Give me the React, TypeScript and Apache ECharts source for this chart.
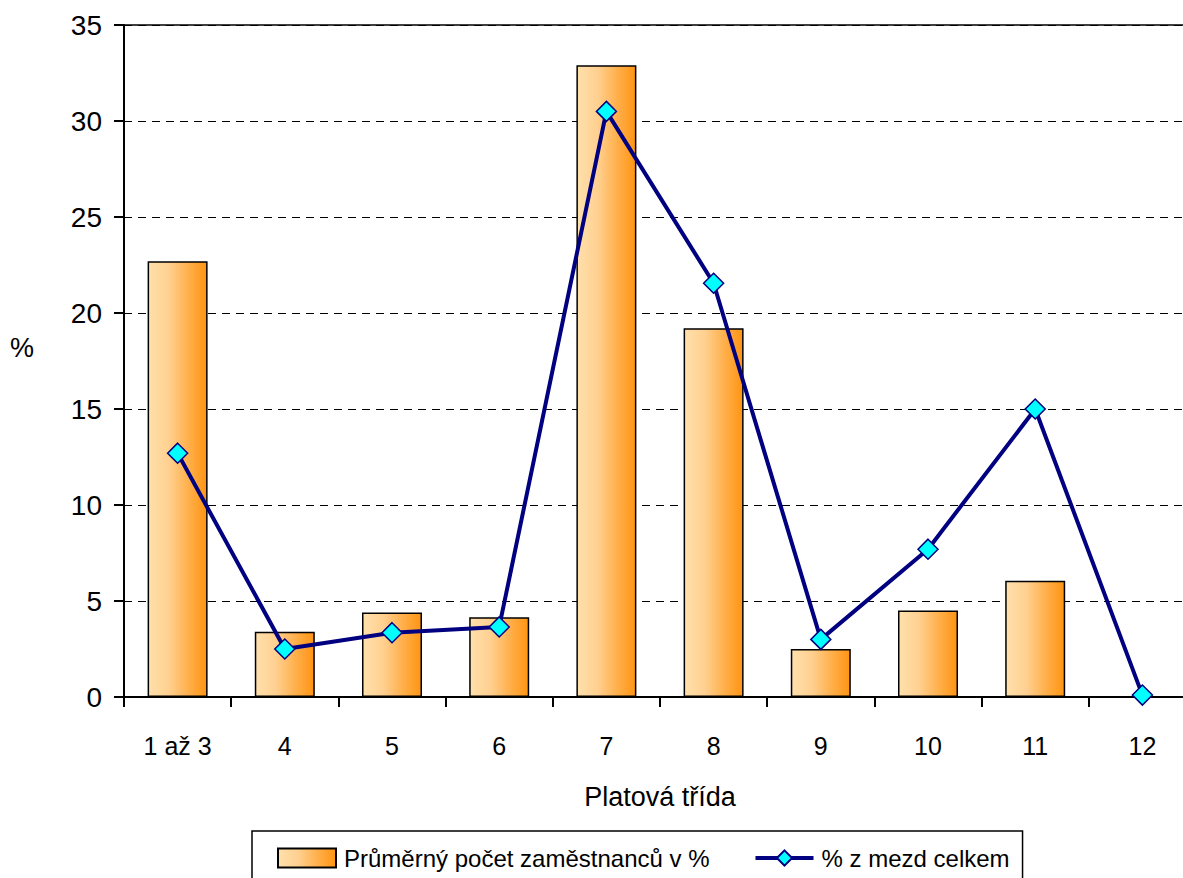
import React, { useEffect, useRef } from "react";
import * as echarts from "echarts";

const categories = ["1 až 3", "4", "5", "6", "7", "8", "9", "10", "11", "12"];
const employeesPct = [22.7, 3.4, 4.4, 4.15, 32.9, 19.2, 2.5, 4.5, 6.05, 0];
const wagesPct = [12.7, 2.5, 3.35, 3.65, 30.5, 21.55, 3.0, 7.7, 15.0, 0.1];
const yTicks = { min: 0, max: 35, interval: 5 };

const FONT = "'Liberation Sans', Arial, sans-serif";

export default function App() {
  const ref = useRef<HTMLDivElement>(null);
  useEffect(() => {
    if (!ref.current) return;
    const chart = echarts.init(ref.current, undefined, { renderer: "svg" });
    const barGradient = new echarts.graphic.LinearGradient(0, 0, 1, 0, [
      { offset: 0, color: "#FFE0AC" },
      { offset: 0.35, color: "#FFD090" },
      { offset: 0.7, color: "#FFAE48" },
      { offset: 1, color: "#FF9412" },
    ]);
    chart.setOption({
      animation: false,
      backgroundColor: "#ffffff",
      textStyle: { fontFamily: FONT, color: "#000" },
      grid: {
        left: 124,
        top: 25,
        right: 14,
        bottom: 181,
        show: true,
        borderColor: "#000",
        borderWidth: 1.5,
        containLabel: false,
      },
      legend: {
        left: 252,
        top: 831,
        padding: [15, 13, 25, 25],
        itemGap: 44,
        itemWidth: 58,
        itemHeight: 19,
        borderColor: "#000",
        borderWidth: 1.5,
        textStyle: { fontFamily: FONT, fontSize: 24, color: "#000", padding: [0, 0, 0, 3] },
        data: [
          { name: "Průměrný počet zaměstnanců v %", icon: "rect" },
          { name: "% z mezd celkem", lineStyle: { width: 4 } },
        ],
      },
      xAxis: {
        type: "category",
        data: categories,
        boundaryGap: true,
        name: "Platová třída",
        nameLocation: "middle",
        nameGap: 86,
        nameTextStyle: { fontFamily: FONT, fontSize: 27, color: "#000" },
        axisLine: { lineStyle: { color: "#000", width: 2 } },
        axisTick: { show: true, length: 10, lineStyle: { color: "#000", width: 2 } },
        axisLabel: { fontFamily: FONT, fontSize: 25, color: "#000", margin: 36 },
        splitLine: { show: false },
      },
      yAxis: {
        type: "value",
        min: yTicks.min,
        max: yTicks.max,
        interval: yTicks.interval,
        name: "%",
        nameLocation: "middle",
        nameRotate: 0,
        nameGap: 90,
        nameTextStyle: { fontFamily: FONT, fontSize: 27, color: "#000", verticalAlign: "bottom" },
        axisLine: { show: true, lineStyle: { color: "#000", width: 2 } },
        axisTick: { show: true, length: 10, lineStyle: { color: "#000", width: 2 } },
        axisLabel: { fontFamily: FONT, fontSize: 28, color: "#000", margin: 22 },
        splitLine: { show: true, lineStyle: { color: "#000", width: 1, type: [8, 6] } },
      },
      series: [
        {
          name: "Průměrný počet zaměstnanců v %",
          type: "bar",
          data: employeesPct,
          barWidth: 60,
          itemStyle: { color: barGradient, borderColor: "#000", borderWidth: 1.5 },
        },
        {
          name: "% z mezd celkem",
          type: "line",
          data: wagesPct,
          symbol: "diamond",
          symbolSize: 20,
          lineStyle: { color: "#000080", width: 4 },
          itemStyle: { color: "#00FFFF", borderColor: "#000080", borderWidth: 1.5 },
          z: 3,
        },
      ],
    });
    return () => chart.dispose();
  }, []);
  return (
    <div style={{ position: "fixed", left: 0, top: 0, width: 1183, height: 878, overflow: "hidden", background: "#fff" }}>
      <div ref={ref} style={{ width: 1210, height: 878 }} />
    </div>
  );
}
